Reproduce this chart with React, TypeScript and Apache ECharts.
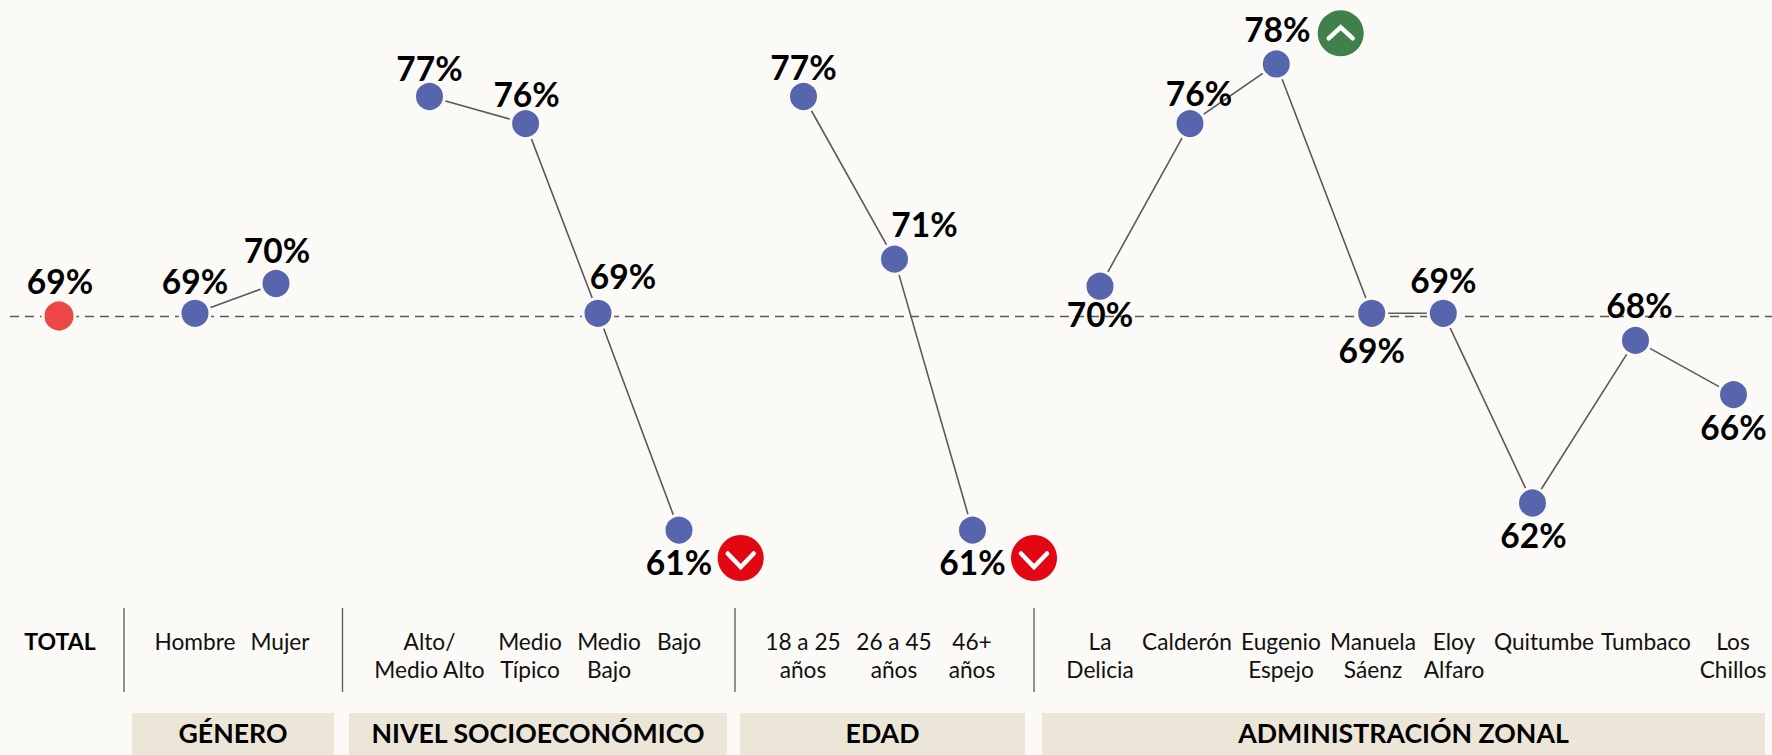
import React, { useEffect, useRef } from "react";
import * as echarts from "echarts";

const FONT = "Lato, 'Noto Sans', sans-serif";
const BG = "#FBFAF6";

// Data
const totalValue = [68.9];
const generoValues = [69, 70.1];
const nseValues = [77, 76, 69, 61];
const edadValues = [77, 71, 61];
const zonalValues = [70, 76, 78.2, 69, 69, 62, 68, 66];

const categories = [
  "{b|TOTAL}", "Hombre", "Mujer",
  "Alto/\nMedio Alto", "Medio\nTípico", "Medio\nBajo", "Bajo",
  "18 a 25\naños", "26 a 45\naños", "46+\naños",
  "La\nDelicia", "Calderón", "Eugenio\nEspejo", "Manuela\nSáenz", "Eloy\nAlfaro", "Quitumbe", "Tumbaco", "Los\nChillos",
];
const groupTitles = ["GÉNERO", "NIVEL SOCIOECONÓMICO", "EDAD", "ADMINISTRACIÓN ZONAL"];

// Layout (the reference's columns are unevenly spaced)
const totalX = [59];
const generoX = [195, 276];
const nseX = [429.5, 525.6, 598, 679];
const edadX = [803.5, 894.5, 972.5];
const zonalX = [1100, 1190, 1276.3, 1371.7, 1443.3, 1532.5, 1635.5, 1733.5];
const categoryLabelX = [60, 195, 280, 429.5, 530, 609, 679, 803, 894, 972, 1100, 1187, 1281, 1373, 1454, 1544, 1646, 1733];
const bands = [[132, 334], [349, 727], [740, 1025], [1042, 1765]];
const dividers = [124, 342.5, 735, 1034];

const totalOffset = [[1, -35]];
const generoOffset = [[0, -32], [1, -33]];
const nseOffset = [[0, -29], [1, -30], [25, -37], [0, 32]];
const edadOffset = [[0, -30], [30, -35], [0, 32]];
const zonalOffset = [[0, 28], [9, -31], [1, -35], [0, 37], [0, -33], [1, 32], [4, -35], [0, 32]];

function pointSeries(x: number[], y: number[], offsets: number[][], color = "#5766AC", size = 30) {
  return {
    type: "line" as const,
    data: x.map((vx, i) => ({
      value: [vx, y[i]],
      label: { offset: offsets[i] },
    })),
    symbol: "circle",
    symbolSize: size,
    showSymbol: true,
    showAllSymbols: true,
    itemStyle: { color, borderColor: BG, borderWidth: 3, opacity: 1 },
    lineStyle: { color: "#5A5A5A", width: 1.6 },
    emphasis: { disabled: true },
    silent: true,
    z: 3,
    label: {
      show: true,
      position: "inside" as const,
      formatter: (p: any) => `${Math.round(p.value[1])}%`,
      fontFamily: FONT,
      fontWeight: 700,
      fontSize: 33.5,
      color: "#000",
    },
  };
}

function chevron(cx: number, cy: number, up: boolean, fill: string) {
  const pts = up
    ? [[cx - 12, cy + 5], [cx, cy - 6], [cx + 12, cy + 5]]
    : [[cx - 13, cy - 4.5], [cx, cy + 9], [cx + 13, cy - 4.5]];
  return [
    { type: "circle", shape: { cx, cy, r: 23 }, style: { fill }, silent: true },
    {
      type: "polyline",
      shape: { points: pts },
      style: { stroke: "#fff", lineWidth: 4.5, fill: "none", lineCap: "round", lineJoin: "miter" },
      silent: true,
    },
  ];
}

export default function App() {
  const ref = useRef<HTMLDivElement>(null);
  useEffect(() => {
    document.body.style.margin = "0";
    document.body.style.background = BG;
    const chart = echarts.init(ref.current!, null, { renderer: "svg" });
    const graphics: any[] = [
      ...bands.map((b) => ({
        type: "rect",
        shape: { x: b[0], y: 713, width: b[1] - b[0], height: 42 },
        style: { fill: "#EBE6D7" },
        silent: true,
      })),
      ...bands.map((b, i) => ({
        type: "text",
        x: (b[0] + b[1]) / 2,
        y: 733,
        style: {
          text: groupTitles[i],
          fill: "#000",
          font: `700 26.7px ${FONT}`,
          textAlign: "center",
          textVerticalAlign: "middle",
        },
        silent: true,
      })),
      ...dividers.map((x) => ({
        type: "line",
        shape: { x1: x, y1: 608, x2: x, y2: 692 },
        style: { stroke: "#5A5A5A", lineWidth: 1.3 },
        silent: true,
      })),
      ...chevron(1340.7, 33.3, true, "#41804A"),
      ...chevron(740.7, 558, false, "#E30613"),
      ...chevron(1034, 558, false, "#E30613"),
    ];
    chart.setOption({
      animation: false,
      backgroundColor: BG,
      grid: { left: 0, right: 0, top: 15.2, height: 596.2, containLabel: false },
      xAxis: {
        type: "value",
        min: 0,
        max: 1772,
        splitLine: { show: false },
        axisLine: { show: false },
        axisTick: { show: false },
        axisLabel: {
          show: true,
          customValues: categoryLabelX,
          formatter: (v: number) => categories[categoryLabelX.indexOf(v)] ?? "",
          margin: 15.7,
          verticalAlign: "top",
          align: "center",
          hideOverlap: false,
          fontFamily: FONT,
          fontSize: 22.7,
          lineHeight: 28,
          color: "#111",
          rich: { b: { fontFamily: FONT, fontWeight: 700, fontSize: 23, lineHeight: 28, color: "#000" } },
        },
      },
      yAxis: { type: "value", min: 58, max: 80, show: false },
      graphic: graphics,
      series: [
        {
          type: "line",
          data: [],
          silent: true,
          z: 1,
          markLine: {
            silent: true,
            z: 1,
            symbol: "none",
            label: { show: false },
            lineStyle: { color: "#5A5A5A", type: [9, 6], width: 1.3 },
            data: [[{ coord: [10, totalValue[0]] }, { coord: [1772, totalValue[0]] }]],
          },
        },
        pointSeries(totalX, totalValue, totalOffset, "#EC4646", 32),
        pointSeries(generoX, generoValues, generoOffset),
        pointSeries(nseX, nseValues, nseOffset),
        pointSeries(edadX, edadValues, edadOffset),
        pointSeries(zonalX, zonalValues, zonalOffset),
      ],
    });
    return () => chart.dispose();
  }, []);
  return <div ref={ref} style={{ width: 1772, height: 755 }} />;
}
